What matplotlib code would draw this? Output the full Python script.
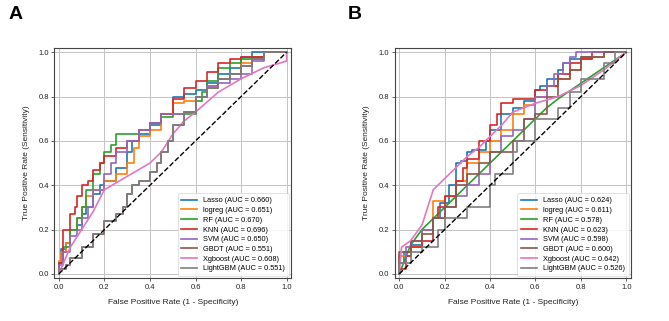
import matplotlib.pyplot as plt

plt.rcParams['font.family'] = ['Liberation Sans', 'DejaVu Sans']

model_names = ['Lasso', 'logreg', 'RF', 'KNN', 'SVM', 'GBDT', 'Xgboost', 'LightGBM']
colors = ['#1f77b4', '#ff7f0e', '#2ca02c', '#d62728', '#9467bd', '#8c564b', '#e377c2', '#7f7f7f']

# ---- panel A (training set) ----
auc_a = [0.660, 0.651, 0.670, 0.696, 0.650, 0.551, 0.608, 0.551]

lasso_a_fpr = [0, 0.01, 0.03, 0.05, 0.08, 0.1, 0.12, 0.15, 0.18, 0.2, 0.25, 0.28, 0.3, 0.32, 0.35, 0.4, 0.45, 0.5, 0.55, 0.6, 0.65, 0.7, 0.75, 0.8, 0.85, 0.9, 1.0]
lasso_a_tpr = [0, 0.05, 0.11, 0.14, 0.2, 0.22, 0.27, 0.3, 0.36, 0.4, 0.42, 0.48, 0.48, 0.55, 0.6, 0.63, 0.67, 0.72, 0.8, 0.81, 0.83, 0.86, 0.9, 0.93, 0.98, 1.0, 1.0]

logreg_a_fpr = [0, 0.01, 0.03, 0.05, 0.08, 0.1, 0.12, 0.15, 0.2, 0.25, 0.3, 0.33, 0.35, 0.4, 0.45, 0.5, 0.55, 0.6, 0.65, 0.7, 0.75, 0.8, 0.85, 0.9, 1.0]
logreg_a_tpr = [0, 0.06, 0.1, 0.14, 0.2, 0.25, 0.3, 0.35, 0.38, 0.42, 0.45, 0.5, 0.57, 0.62, 0.65, 0.72, 0.77, 0.78, 0.8, 0.85, 0.88, 0.9, 0.95, 0.98, 1.0]

rf_a_fpr = [0, 0.02, 0.05, 0.08, 0.1, 0.12, 0.15, 0.18, 0.2, 0.23, 0.25, 0.3, 0.35, 0.4, 0.45, 0.5, 0.55, 0.6, 0.63, 0.65, 0.7, 0.75, 0.8, 0.85, 0.9, 1.0]
rf_a_tpr = [0, 0.05, 0.12, 0.2, 0.25, 0.3, 0.38, 0.45, 0.5, 0.55, 0.58, 0.63, 0.63, 0.65, 0.68, 0.71, 0.72, 0.72, 0.78, 0.82, 0.87, 0.93, 0.95, 0.97, 0.98, 1.0]

knn_a_fpr = [0, 0.02, 0.05, 0.07, 0.08, 0.1, 0.13, 0.15, 0.18, 0.2, 0.25, 0.3, 0.35, 0.4, 0.45, 0.5, 0.55, 0.6, 0.65, 0.7, 0.75, 0.8, 0.9, 1.0]
knn_a_tpr = [0, 0.05, 0.2, 0.27, 0.3, 0.35, 0.4, 0.42, 0.47, 0.5, 0.53, 0.57, 0.6, 0.65, 0.68, 0.72, 0.79, 0.84, 0.87, 0.91, 0.95, 0.97, 0.98, 1.0]

svm_a_fpr = [0, 0.02, 0.05, 0.08, 0.1, 0.13, 0.15, 0.2, 0.23, 0.25, 0.3, 0.35, 0.4, 0.45, 0.5, 0.55, 0.6, 0.65, 0.7, 0.75, 0.8, 0.85, 0.9, 1.0]
svm_a_tpr = [0, 0.04, 0.1, 0.17, 0.2, 0.25, 0.3, 0.38, 0.45, 0.5, 0.55, 0.6, 0.65, 0.68, 0.72, 0.72, 0.73, 0.8, 0.85, 0.86, 0.88, 0.9, 0.96, 1.0]

xgb_a_fpr = [0, 0.05, 0.1, 0.15, 0.2, 0.3, 0.4, 0.45, 0.5, 0.55, 0.6, 0.7, 0.8, 0.9, 1.0, 1.0]
xgb_a_tpr = [0, 0.12, 0.2, 0.28, 0.38, 0.44, 0.5, 0.55, 0.63, 0.69, 0.73, 0.82, 0.88, 0.93, 0.96, 1.0]

lgbm_a_fpr = [0, 0.03, 0.05, 0.1, 0.15, 0.2, 0.25, 0.28, 0.3, 0.32, 0.35, 0.4, 0.43, 0.45, 0.48, 0.5, 0.55, 0.6, 0.65, 0.7, 0.75, 0.8, 0.85, 0.9, 1.0]
lgbm_a_tpr = [0, 0.02, 0.04, 0.07, 0.12, 0.18, 0.24, 0.27, 0.3, 0.36, 0.4, 0.42, 0.46, 0.5, 0.55, 0.6, 0.67, 0.73, 0.8, 0.84, 0.88, 0.9, 0.94, 0.97, 1.0]

# GBDT curve sits under LightGBM (same AUC)
gbdt_a_fpr = lgbm_a_fpr
gbdt_a_tpr = lgbm_a_tpr

# ---- panel B (validation set) ----
auc_b = [0.624, 0.611, 0.578, 0.623, 0.598, 0.600, 0.642, 0.526]

lasso_b_fpr = [0, 0.02, 0.05, 0.1, 0.15, 0.18, 0.22, 0.25, 0.27, 0.3, 0.32, 0.38, 0.4, 0.45, 0.5, 0.55, 0.6, 0.62, 0.65, 0.7, 0.72, 0.75, 0.8, 0.9, 1.0]
lasso_b_tpr = [0, 0.05, 0.1, 0.13, 0.2, 0.25, 0.32, 0.4, 0.5, 0.51, 0.55, 0.56, 0.6, 0.65, 0.72, 0.75, 0.78, 0.83, 0.85, 0.88, 0.92, 0.95, 0.97, 0.98, 1.0]

logreg_b_fpr = [0, 0.05, 0.1, 0.15, 0.2, 0.25, 0.3, 0.35, 0.4, 0.45, 0.5, 0.55, 0.6, 0.65, 0.7, 0.75, 0.8, 0.85, 0.9, 1.0]
logreg_b_tpr = [0, 0.08, 0.12, 0.2, 0.33, 0.35, 0.42, 0.5, 0.55, 0.6, 0.65, 0.72, 0.76, 0.8, 0.85, 0.88, 0.92, 0.97, 0.98, 1.0]

rf_b_fpr = [0, 0.05, 0.1, 0.2, 0.3, 0.4, 0.5, 0.6, 0.65, 0.7, 0.8, 0.9, 1.0]
rf_b_tpr = [0, 0.13, 0.2, 0.3, 0.4, 0.5, 0.6, 0.7, 0.75, 0.79, 0.86, 0.93, 1.0]

knn_b_fpr = [0, 0.03, 0.05, 0.1, 0.15, 0.17, 0.2, 0.25, 0.28, 0.3, 0.35, 0.4, 0.43, 0.45, 0.5, 0.6, 0.65, 0.7, 0.75, 0.8, 0.85, 0.95, 1.0]
knn_b_tpr = [0, 0.02, 0.08, 0.12, 0.15, 0.25, 0.3, 0.35, 0.42, 0.48, 0.52, 0.6, 0.67, 0.72, 0.77, 0.79, 0.83, 0.85, 0.9, 0.95, 0.97, 1.0, 1.0]

svm_b_fpr = [0, 0.03, 0.05, 0.1, 0.15, 0.2, 0.25, 0.3, 0.35, 0.4, 0.45, 0.5, 0.55, 0.6, 0.65, 0.68, 0.72, 0.75, 0.78, 0.8, 1.0]
svm_b_tpr = [0, 0.05, 0.12, 0.15, 0.2, 0.25, 0.3, 0.35, 0.4, 0.45, 0.55, 0.62, 0.65, 0.7, 0.8, 0.85, 0.9, 0.95, 0.98, 1.0, 1.0]

gbdt_b_fpr = [0, 0.05, 0.1, 0.15, 0.2, 0.25, 0.3, 0.35, 0.4, 0.5, 0.55, 0.6, 0.65, 0.7, 0.75, 0.8, 0.9, 0.95, 1.0]
gbdt_b_tpr = [0, 0.1, 0.15, 0.18, 0.25, 0.3, 0.4, 0.45, 0.5, 0.55, 0.6, 0.7, 0.72, 0.8, 0.88, 0.92, 0.98, 1.0, 1.0]

xgb_b_fpr = [0, 0.01, 0.05, 0.1, 0.15, 0.2, 0.3, 0.35, 0.45, 0.5, 0.6, 0.7, 0.8, 0.9, 1.0]
xgb_b_tpr = [0, 0.12, 0.15, 0.22, 0.38, 0.43, 0.53, 0.57, 0.67, 0.73, 0.77, 0.8, 0.85, 0.92, 1.0]

lgbm_b_fpr = [0, 0.05, 0.1, 0.17, 0.2, 0.3, 0.4, 0.42, 0.5, 0.52, 0.6, 0.7, 0.75, 0.8, 0.9, 0.95, 1.0]
lgbm_b_tpr = [0, 0.05, 0.1, 0.12, 0.2, 0.25, 0.3, 0.4, 0.45, 0.55, 0.6, 0.7, 0.75, 0.82, 0.88, 0.95, 1.0]

curves_a = [(lasso_a_fpr, lasso_a_tpr), (logreg_a_fpr, logreg_a_tpr), (rf_a_fpr, rf_a_tpr),
            (knn_a_fpr, knn_a_tpr), (svm_a_fpr, svm_a_tpr), (gbdt_a_fpr, gbdt_a_tpr),
            (xgb_a_fpr, xgb_a_tpr), (lgbm_a_fpr, lgbm_a_tpr)]
curves_b = [(lasso_b_fpr, lasso_b_tpr), (logreg_b_fpr, logreg_b_tpr), (rf_b_fpr, rf_b_tpr),
            (knn_b_fpr, knn_b_tpr), (svm_b_fpr, svm_b_tpr), (gbdt_b_fpr, gbdt_b_tpr),
            (xgb_b_fpr, xgb_b_tpr), (lgbm_b_fpr, lgbm_b_tpr)]
smooth_a = {'Xgboost'}
smooth_b = {'Xgboost', 'RF'}

FS = 5.5


def draw_panel(ax, curves, aucs, smooth):
    for name, (fpr, tpr), auc, c in zip(model_names, curves, aucs, colors):
        ds = 'default' if name in smooth else 'steps-pre'
        ax.plot(fpr, tpr, color=c, lw=1.2, drawstyle=ds, label=f'{name} (AUC = {auc:.3f})')
    ax.plot([0, 1], [0, 1], 'k--', lw=1.0)
    ax.set_xlim(-0.02, 1.02)
    ax.set_ylim(-0.02, 1.02)
    ax.set_xticks([0, 0.2, 0.4, 0.6, 0.8, 1.0])
    ax.set_yticks([0, 0.2, 0.4, 0.6, 0.8, 1.0])
    ax.grid(True, color='#c4c4c4', lw=0.7)
    ax.set_axisbelow(True)
    for s in ax.spines.values():
        s.set_color('#444444')
        s.set_linewidth(0.8)
    ax.tick_params(labelsize=FS, length=2, width=0.5, pad=2, colors='#222222')
    ax.set_xlabel('False Positive Rate (1 - Specificity)', fontsize=FS + 0.5, labelpad=6, color='#222222')
    ax.set_ylabel('True Positive Rate (Sensitivity)', fontsize=FS + 0.5, labelpad=6, color='#222222')
    leg = ax.legend(loc='lower right', fontsize=FS - 0.2, frameon=True, borderaxespad=0.3,
                    handlelength=2.2, labelspacing=0.35, borderpad=0.5)
    leg.get_frame().set_edgecolor('#cccccc')
    leg.get_frame().set_linewidth(0.5)


fig = plt.figure(figsize=(6.69, 3.21), dpi=100)
ax_a = fig.add_axes([0.0812, 0.133, 0.354, 0.718])
ax_b = fig.add_axes([0.590, 0.133, 0.353, 0.718])

draw_panel(ax_a, curves_a, auc_a, smooth_a)
draw_panel(ax_b, curves_b, auc_b, smooth_b)

fig.text(0.012, 0.955, 'A', fontsize=14, fontweight='bold', va='center', ha='left')
fig.text(0.520, 0.955, 'B', fontsize=14, fontweight='bold', va='center', ha='left')

fig.savefig('out.png', dpi=100, facecolor='white')
